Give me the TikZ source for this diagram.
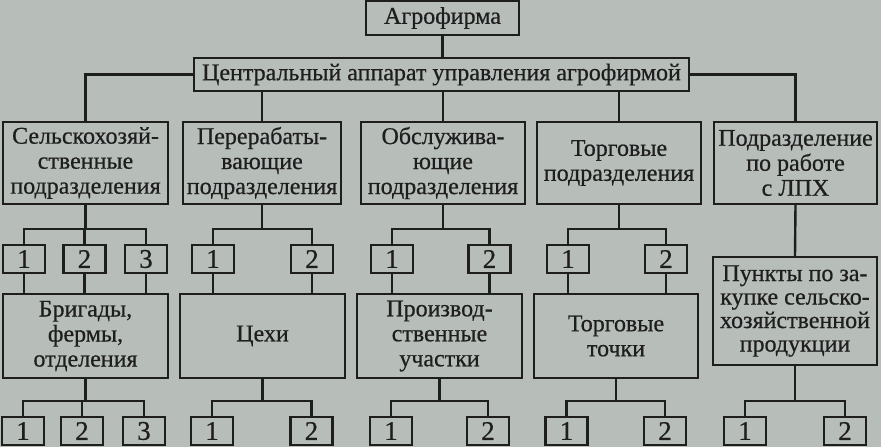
\documentclass[tikz,border=0pt]{standalone}
\usepackage{fontspec}
\setmainfont{Liberation Serif}[FakeBold=0.6]
\definecolor{bg}{HTML}{B7BEBA}
\definecolor{ink}{HTML}{1E1E1E}
\begin{document}
\begin{tikzpicture}[x=1pt,y=-1pt,
  box/.style={draw=ink, line width=2.4pt, inner sep=0pt, align=center, text=ink,
    font=\fontsize{24}{25}\selectfont},
  num/.style={box, minimum width=42pt, minimum height=28pt, font=\fontsize{27}{28}\selectfont},
  big/.style={box, minimum width=165pt, minimum height=84pt},
  top/.style={box, minimum height=82pt},
  link/.style={draw=ink, line width=2.4pt}]
\fill[bg] (0,0) rectangle (881,447);
\useasboundingbox (0,0) rectangle (881,447);

\node[box, minimum width=153pt, minimum height=34pt] (agro) at (442.5,18) {Агрофирма};
\node[box, minimum width=495pt, minimum height=33pt] (central) at (441.5,74.5) {Центральный аппарат управления агрофирмой};

\node[top, minimum width=165pt] (b1) at (85.5,163) {Сельскохозяй-\\ственные\\подразделения};
\node[top, minimum width=158pt] (b2) at (262,163) {Перерабаты-\\вающие\\подразделения};
\node[top, minimum width=164pt] (b3) at (443,163) {Обслужива-\\ющие\\подразделения};
\node[top, minimum width=164pt] (b4) at (619,163) {Торговые\\подразделения};
\node[top, minimum width=163pt] (b5) at (795.5,163) {Подразделение\\по работе\\с ЛПХ};

\node[num] (n11) at (24,259) {1};
\node[num] (n12) at (84.5,259) {2};
\node[num] (n13) at (146,259) {3};
\node[num] (n21) at (213,259) {1};
\node[num] (n22) at (312,259) {2};
\node[num] (n31) at (392,259) {1};
\node[num] (n32) at (489.5,259) {2};
\node[num] (n41) at (568,259) {1};
\node[num] (n42) at (666,259) {2};

\node[big] (B1) at (85.5,336) {Бригады,\\фермы,\\отделения};
\node[big] (B2) at (262.5,336) {Цехи};
\node[big] (B3) at (439.5,336) {Производ-\\ственные\\участки};
\node[big, minimum width=164pt] (B4) at (616,336) {Торговые\\точки};
\node[box, minimum width=164pt, minimum height=108pt, font=\fontsize{24}{23.5}\selectfont] (B5) at (795,311) {Пункты по за-\\купке сельско-\\хозяйственной\\продукции};

\node[num] (m11) at (23,431) {1};
\node[num] (m12) at (82,431) {2};
\node[num] (m13) at (144,431) {3};
\node[num] (m21) at (212,431) {1};
\node[num] (m22) at (311.5,431) {2};
\node[num] (m31) at (391,431) {1};
\node[num] (m32) at (488,431) {2};
\node[num] (m41) at (566.5,431) {1};
\node[num] (m42) at (665,431) {2};
\node[num] (m51) at (745,431) {1};
\node[num] (m52) at (845,431) {2};

\draw[link] (agro.south) -- (agro.south |- central.north);
\draw[link] (central.west) -| (b1.north);
\draw[link] (central.east) -| (b5.north);
\foreach \b in {b2,b3,b4} \draw[link] (\b.north) -- (\b.north |- central.south);

\foreach \n in {n11,n12,n13} {
  \draw[link] (b1.south) -- ++(0,24) -| (\n.north);
  \draw[link] (\n.south) -- (\n.south |- B1.north);
  }
\foreach \n in {n21,n22} {
  \draw[link] (b2.south) -- ++(0,24) -| (\n.north);
  \draw[link] (\n.south) -- (\n.south |- B2.north);
  }
\foreach \n in {n31,n32} {
  \draw[link] (b3.south) -- ++(0,24) -| (\n.north);
  \draw[link] (\n.south) -- (\n.south |- B3.north);
  }
\foreach \n in {n41,n42} {
  \draw[link] (b4.south) -- ++(0,24) -| (\n.north);
  \draw[link] (\n.south) -- (\n.south |- B4.north);
  }
\draw[link] (b5.south) -- (B5.north);

\foreach \n in {m11,m12,m13} \draw[link] (B1.south) -- ++(0,22) -| (\n.north);
\foreach \n in {m21,m22} \draw[link] (B2.south) -- ++(0,22) -| (\n.north);
\foreach \n in {m31,m32} \draw[link] (B3.south) -- ++(0,22) -| (\n.north);
\foreach \n in {m41,m42} \draw[link] (B4.south) -- ++(0,22) -| (\n.north);
\foreach \n in {m51,m52} \draw[link] (B5.south) -- ++(0,35) -| (\n.north);
\end{tikzpicture}
\end{document}
